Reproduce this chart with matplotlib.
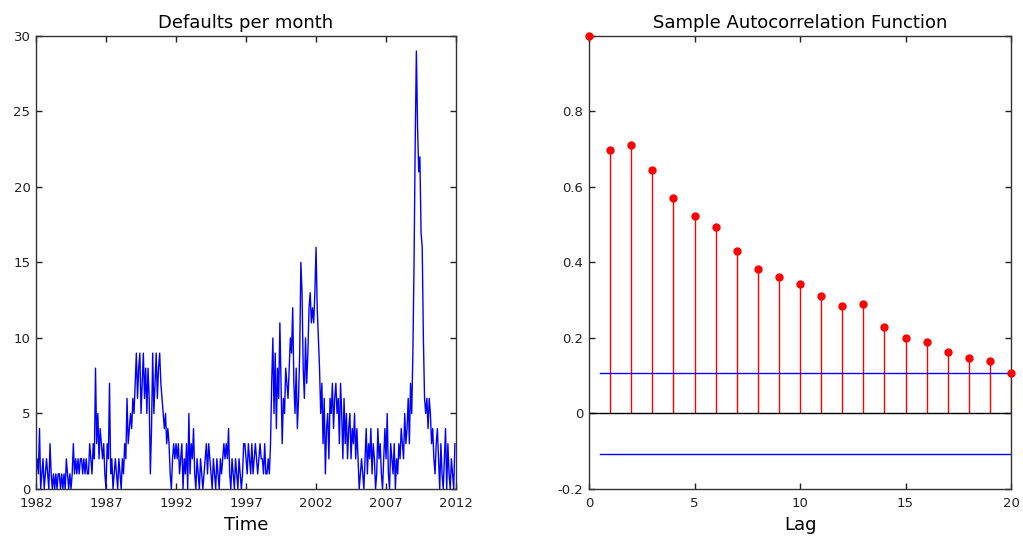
import numpy as np
import matplotlib
matplotlib.use("Agg")
import matplotlib.pyplot as plt

# monthly default counts, 1982-2011
defaults = [
    1, 2, 1, 4, 0, 1, 2, 0, 1, 2, 1, 0,   # 1982
    3, 1, 0, 1, 0, 1, 0, 1, 1, 0, 1, 0,   # 1983
    1, 0, 2, 1, 0, 1, 0, 1, 3, 1, 2, 1,   # 1984
    2, 1, 2, 2, 1, 2, 1, 2, 1, 1, 3, 2,   # 1985
    1, 3, 2, 8, 3, 5, 2, 4, 3, 2, 3, 1,   # 1986
    0, 3, 2, 7, 1, 2, 0, 1, 2, 1, 0, 2,   # 1987
    1, 0, 2, 1, 3, 2, 6, 3, 4, 5, 4, 6,   # 1988
    5, 7, 9, 6, 8, 9, 5, 7, 9, 6, 8, 5,   # 1989
    8, 6, 1, 4, 9, 5, 7, 9, 6, 8, 9, 7,   # 1990
    6, 5, 4, 5, 3, 4, 3, 1, 0, 2, 3, 2,   # 1991
    3, 2, 3, 1, 2, 3, 0, 2, 1, 3, 0, 5,   # 1992
    1, 3, 2, 4, 1, 0, 2, 1, 0, 2, 1, 0,   # 1993
    1, 2, 3, 1, 3, 2, 1, 0, 2, 1, 0, 2,   # 1994
    1, 0, 2, 1, 2, 3, 2, 3, 2, 4, 1, 0,   # 1995
    2, 1, 0, 2, 1, 0, 2, 1, 0, 1, 3, 3,   # 1996
    2, 1, 3, 2, 1, 3, 1, 2, 3, 2, 1, 2,   # 1997
    3, 2, 2, 1, 3, 1, 1, 2, 1, 3, 7, 10,  # 1998
    5, 9, 4, 8, 6, 11, 7, 3, 6, 5, 8, 7,  # 1999
    6, 8, 10, 9, 12, 7, 5, 8, 4, 6, 9, 15,  # 2000
    13, 8, 6, 10, 7, 9, 12, 13, 11, 12, 11, 13,  # 2001
    16, 12, 10, 8, 5, 7, 3, 6, 1, 4, 5, 2,  # 2002
    6, 5, 7, 4, 6, 7, 5, 6, 3, 7, 5, 2,   # 2003
    6, 3, 5, 2, 4, 5, 2, 4, 3, 5, 2, 4,   # 2004
    2, 0, 1, 2, 1, 0, 2, 4, 1, 3, 2, 4,   # 2005
    1, 3, 2, 0, 1, 4, 2, 3, 1, 0, 2, 4,   # 2006
    2, 5, 1, 0, 3, 2, 1, 3, 0, 2, 1, 3,   # 2007
    2, 4, 3, 2, 5, 3, 4, 6, 3, 7, 5, 9,   # 2008
    15, 23, 29, 24, 21, 22, 17, 16, 10, 6, 5, 6,  # 2009
    4, 6, 5, 3, 4, 2, 1, 3, 4, 2, 0, 3,   # 2010
    1, 0, 2, 4, 0, 3, 1, 0, 2, 1, 0, 3,   # 2011
]
start_year = 1982

lags = list(range(21))
acf = [1.0, 0.699, 0.712, 0.644, 0.572, 0.523, 0.494, 0.431, 0.383, 0.362,
       0.342, 0.310, 0.286, 0.290, 0.230, 0.199, 0.190, 0.162, 0.146, 0.138, 0.107]
conf_bound = 0.106

plt.rcParams['font.family'] = ['DejaVu Sans']

fig = plt.figure(figsize=(10.23, 5.42), dpi=100)
ax1 = fig.add_axes([0.0352, 0.0978, 0.4106, 0.8358])
ax2 = fig.add_axes([0.5758, 0.0978, 0.4125, 0.8358])

t = start_year + np.arange(len(defaults)) / 12.0
ax1.plot(t, defaults, color='#0000ff', lw=1.0)
ax1.set_xlim(1982, 2012)
ax1.set_ylim(0, 30)
ax1.set_xticks(range(1982, 2013, 5))
ax1.set_yticks(range(0, 31, 5))
ax1.set_title("Defaults per month", fontsize=13, pad=6)
ax1.set_xlabel("Time", fontsize=13, labelpad=4)

# stems (lag 0 sits on the axis edge)
ax2.vlines(lags[1:], 0, acf[1:], color='#ff0000', lw=1.0)
ax2.plot(lags, acf, 'o', color='#ff0000', ms=5, clip_on=False, zorder=5)
ax2.axhline(0, color='#000000', lw=1.0)
ax2.plot([0.5, 20], [conf_bound, conf_bound], color='#0000ff', lw=1.0)
ax2.plot([0.5, 20], [-conf_bound, -conf_bound], color='#0000ff', lw=1.0)
ax2.set_xlim(0, 20)
ax2.set_ylim(-0.2, 1.0)
ax2.set_xticks(range(0, 21, 5))
ax2.set_yticks([-0.2, 0, 0.2, 0.4, 0.6, 0.8, 1.0])
ax2.set_yticklabels(['-0.2', '0', '0.2', '0.4', '0.6', '0.8', ''])
ax2.set_title("Sample Autocorrelation Function", fontsize=13, pad=6)
ax2.set_xlabel("Lag", fontsize=13, labelpad=4)

for ax in (ax1, ax2):
    ax.tick_params(direction='in', length=4, width=1, top=True, right=True,
                   labelsize=9.5, colors='#222222')
    ax.tick_params(axis='x', pad=6)
    ax.tick_params(axis='y', pad=4)
    for s in ax.spines.values():
        s.set_color('#333333')
        s.set_linewidth(1.0)

fig.savefig("out.png", dpi=100)
